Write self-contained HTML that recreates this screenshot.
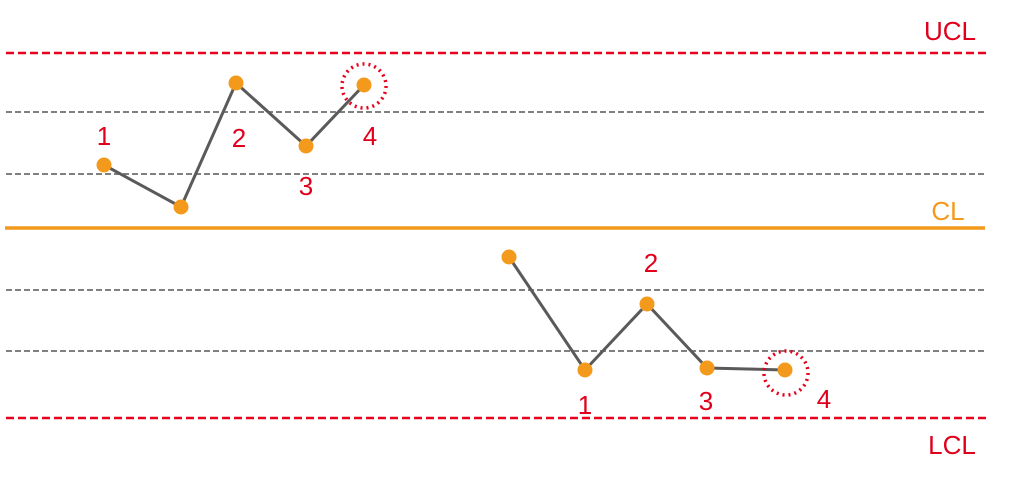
<!DOCTYPE html>
<html><head><meta charset="utf-8"><style>
html,body{margin:0;padding:0;background:#fff;width:1024px;height:482px;overflow:hidden}
text{font-family:"Liberation Sans",sans-serif;font-size:26px}
</style></head><body>
<svg width="1024" height="482" viewBox="0 0 1024 482" xmlns="http://www.w3.org/2000/svg">
<g stroke-width="2" fill="none">
<line x1="6" y1="53" x2="987" y2="53" stroke="#e8001c" stroke-width="2.5" stroke-dasharray="8,4"/>
<line x1="6" y1="112" x2="985" y2="112" stroke="#808080" stroke-dasharray="6,3"/>
<line x1="6" y1="174" x2="985" y2="174" stroke="#808080" stroke-dasharray="6,3"/>
<line x1="5" y1="228" x2="985" y2="228" stroke="#f39a1c" stroke-width="3.5"/>
<line x1="6" y1="290" x2="985" y2="290" stroke="#808080" stroke-dasharray="6,3"/>
<line x1="6" y1="351" x2="985" y2="351" stroke="#808080" stroke-dasharray="6,3"/>
<line x1="6" y1="418" x2="988" y2="418" stroke="#e8001c" stroke-width="2.5" stroke-dasharray="8,4"/>
<polyline points="104,165 181,207 236,83 306,146 364,85" stroke="#5a5a5a" stroke-width="3"/>
<polyline points="509,257 585,370 647,304 707,368 785,370" stroke="#5a5a5a" stroke-width="3"/>
<circle cx="364" cy="86" r="22" stroke="#e8001c" stroke-width="3.5" stroke-dasharray="2,4"/>
<circle cx="786" cy="373" r="22" stroke="#e8001c" stroke-width="3.5" stroke-dasharray="2,4"/>
</g>
<g fill="#f39a1c">
<circle cx="104" cy="165" r="7.5"/><circle cx="181" cy="207" r="7.5"/><circle cx="236" cy="83" r="7.5"/><circle cx="306" cy="146" r="7.5"/><circle cx="364" cy="85" r="7.5"/>
<circle cx="509" cy="257" r="7.5"/><circle cx="585" cy="370" r="7.5"/><circle cx="647" cy="304" r="7.5"/><circle cx="707" cy="368" r="7.5"/><circle cx="785" cy="370" r="7.5"/>
</g>
<g fill="#e0001b" text-anchor="middle">
<text x="104" y="145">1</text><text x="239" y="147">2</text><text x="306" y="195">3</text><text x="370" y="145">4</text>
<text x="651" y="272">2</text><text x="585" y="414">1</text><text x="706" y="410">3</text><text x="824" y="408">4</text>
<text x="950" y="40">UCL</text><text x="948" y="220" fill="#f39a1c">CL</text><text x="952" y="454">LCL</text>
</g>
</svg>
</body></html>
